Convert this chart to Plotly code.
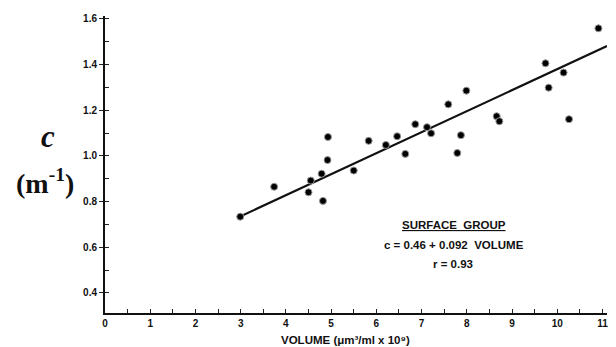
import plotly.graph_objects as go

# Data (volume in um^3/ml x 10^9, c in m^-1)
volume = [2.99, 3.74, 4.55, 4.50, 4.79, 4.82, 4.92, 4.93, 5.50, 5.83, 6.21, 6.46,
          6.64, 6.86, 7.12, 7.21, 7.59, 7.79, 7.87, 7.99, 8.66, 8.72, 9.74, 9.81,
          10.14, 10.26, 10.91]
c_values = [0.734, 0.865, 0.892, 0.841, 0.922, 0.803, 0.982, 1.083, 0.936, 1.066,
            1.048, 1.086, 1.009, 1.139, 1.126, 1.099, 1.226, 1.013, 1.091, 1.286,
            1.174, 1.152, 1.406, 1.299, 1.365, 1.161, 1.559]

# Regression line: c = 0.46 + 0.092 * VOLUME
intercept = 0.46
slope = 0.092
line_x = [2.92, 11.1]
line_y = [intercept + slope * v for v in line_x]

x_ticks = list(range(0, 12))
y_ticks = [0.4, 0.6, 0.8, 1.0, 1.2, 1.4, 1.6]
y_tick_labels = ["0.4", "0.6", "0.8", "1.0", "1.2", "1.4", "1.6"]

fig = go.Figure()
fig.add_trace(go.Scatter(x=line_x, y=line_y, mode="lines",
                         line=dict(color="#111", width=2.2), hoverinfo="skip"))
fig.add_trace(go.Scatter(x=volume, y=c_values, mode="markers",
                         marker=dict(size=7, color="#000",
                                     line=dict(color="#999", width=1))))

tickfont = dict(family="Liberation Sans", size=10, color="#111", weight="bold")

fig.update_layout(
    width=616, height=347,
    margin=dict(l=105, r=9, t=16, b=34),
    paper_bgcolor="white", plot_bgcolor="white",
    showlegend=False,
    xaxis=dict(range=[0, 11.1], tickvals=x_ticks, ticktext=[str(t) for t in x_ticks],
               ticks="inside", ticklen=4, tickwidth=1.2, tickcolor="#222",
               minor=dict(dtick=0.5, tick0=0, ticks="inside", ticklen=4, tickcolor="#222", tickwidth=1.2),
               showline=True, linecolor="#111", linewidth=2,
               showgrid=False, zeroline=False, tickfont=tickfont, automargin=False),
    yaxis=dict(range=[0.312, 1.613], tickvals=y_ticks, ticktext=y_tick_labels,
               ticks="outside", ticklen=4, tickwidth=1.2, tickcolor="#222",
               minor=dict(dtick=0.1, tick0=0.3, ticks="inside", ticklen=4, tickcolor="#222", tickwidth=1.2),
               showline=True, linecolor="#111", linewidth=2,
               showgrid=False, zeroline=False, tickfont=tickfont, automargin=False),
)

ann_font = dict(family="Liberation Sans", size=11.5, color="#111", weight="bold")
fig.add_annotation(x=7.71, y=0.698, xref="x", yref="y", text="<u>SURFACE  GROUP</u>",
                   showarrow=False, font=ann_font)
fig.add_annotation(x=7.71, y=0.612, xref="x", yref="y", text="c = 0.46 + 0.092  VOLUME",
                   showarrow=False, font=ann_font)
fig.add_annotation(x=7.69, y=0.527, xref="x", yref="y", text="r = 0.93",
                   showarrow=False, font=ann_font)

fig.add_annotation(x=5.32, y=-0.091, xref="x", yref="paper", yanchor="middle",
                   text="VOLUME (μm³/ml x 10⁹)", showarrow=False,
                   font=dict(family="Liberation Sans", size=11.5, color="#111", weight="bold"))

fig.add_annotation(x=48, y=347 - 136, xref="paper", yref="paper", text="<b><i>c</i></b>",
                   showarrow=False, xanchor="center", yanchor="middle",
                   font=dict(family="Liberation Serif", size=31, color="#111"))
fig.add_annotation(x=45, y=347 - 181, xref="paper", yref="paper", text="<b>(m<sup>-1</sup>)</b>",
                   showarrow=False, xanchor="center", yanchor="middle",
                   font=dict(family="Liberation Serif", size=28, color="#111"))

# convert pixel-based annotation positions to paper coords
plot_w = 616 - 105 - 9
plot_h = 347 - 16 - 34
for a in fig.layout.annotations:
    if a.xref == "paper" and a.x > 1:
        a.x = (a.x - 105) / plot_w
        a.y = (a.y - 34) / plot_h

fig.write_html("out.html", config={"displayModeBar": False},
               post_script="document.body.style.margin='0';")
